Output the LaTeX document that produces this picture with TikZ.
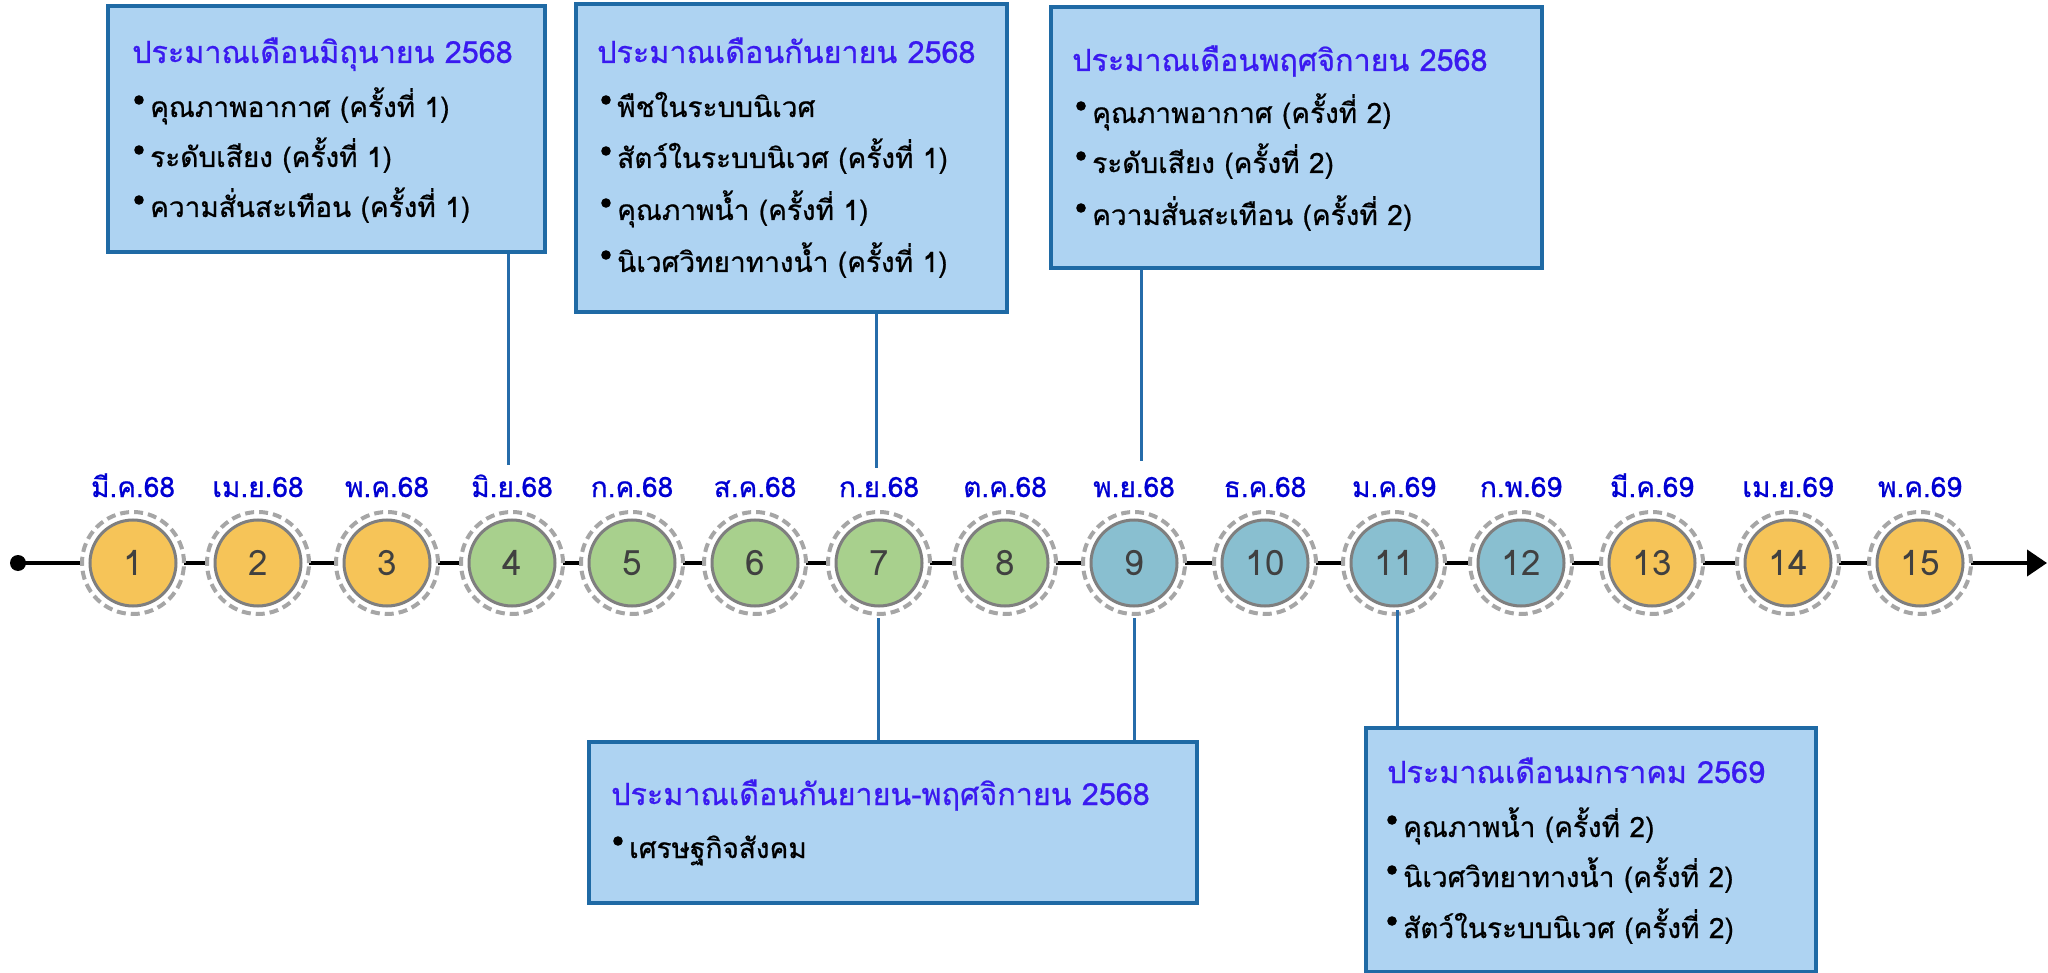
\documentclass[tikz,border=0pt]{standalone}
\usepackage{fontspec}
\usetikzlibrary{arrows.meta}
\setmainfont[Script=Thai]{Loma}
\newfontfamily\thk[Script=Thai,FakeBold=0.7]{Loma}
\definecolor{boxfill}{RGB}{174,211,242}
\definecolor{boxline}{RGB}{31,106,165}
\definecolor{conline}{RGB}{38,108,170}
\definecolor{lblblue}{RGB}{0,0,210}
\definecolor{ttlblue}{RGB}{58,26,240}
\definecolor{cyel}{RGB}{246,196,88}
\definecolor{cgrn}{RGB}{168,208,141}
\definecolor{cblu}{RGB}{137,191,208}
\definecolor{ringgray}{RGB}{166,166,166}
\definecolor{rimgray}{RGB}{127,127,127}
\definecolor{numgray}{RGB}{64,64,64}
\tikzset{
  infobox/.style={draw=boxline, line width=4pt, fill=boxfill, rectangle, inner sep=0pt},
  ttl/.style={anchor=base west, inner sep=0pt, text=ttlblue, font=\thk\fontsize{30.5}{32}\selectfont},
  row/.style={anchor=base west, inner sep=0pt, text=black, font=\thk\fontsize{28}{30}\selectfont},
  ring/.style={circle, draw=ringgray, line width=4pt, dash pattern=on 9pt off 5pt, fill=white, minimum size=102pt, inner sep=0pt},
  disc/.style={circle, draw=rimgray, line width=3pt, minimum size=86pt, inner sep=0pt, text=numgray, font=\fontsize{35}{37}\selectfont},
  mlabel/.style={anchor=base, inner sep=0pt, text=lblblue, font=\thk\fontsize{28}{30}\selectfont},
  conn/.style={draw=conline, line width=3pt},
}
\newcommand{\bulletat}[1]{\fill ([xshift=-11pt,yshift=17pt]#1.base west) circle (4.8pt);}
\begin{document}
\begin{tikzpicture}[x=1pt,y=-1pt]
\useasboundingbox (0,0) rectangle (2048,973);
% timeline
\coordinate (tstart) at (18,563);
\coordinate (tend) at (2047,563);
\draw[line width=4pt, -{Triangle[length=20pt,width=26pt]}] (tstart) -- (tend);
\fill (tstart) circle (8pt);
% circles
\foreach \i/\x/\c/\m in {1/133/cyel/มี.ค.68, 2/258/cyel/เม.ย.68, 3/387/cyel/พ.ค.68, 4/512/cgrn/มิ.ย.68, 5/632/cgrn/ก.ค.68, 6/755/cgrn/ส.ค.68, 7/879/cgrn/ก.ย.68, 8/1005/cgrn/ต.ค.68, 9/1134/cblu/พ.ย.68, 10/1265/cblu/ธ.ค.68, 11/1394/cblu/ม.ค.69, 12/1521/cblu/ก.พ.69, 13/1652/cyel/มี.ค.69, 14/1788/cyel/เม.ย.69, 15/1920/cyel/พ.ค.69}{
  \node[ring] (r\i) at (\x,563) {};
  \node[disc, fill=\c] (c\i) at (\x,563) {\i};
  \node[mlabel] (m\i) at (\x,497) {\m};
}
% boxes
\node[infobox, minimum width=437pt, minimum height=246pt] (b1) at (326.5,129) {};
\node[infobox, minimum width=431pt, minimum height=308pt] (b2) at (791.5,158) {};
\node[infobox, minimum width=491pt, minimum height=261pt] (b3) at (1296.5,137.5) {};
\node[infobox, minimum width=608pt, minimum height=161pt] (b4) at (893,822.5) {};
\node[infobox, minimum width=450pt, minimum height=244pt] (b5) at (1591,850) {};
% box 1
\node[ttl] (t1) at (132,63) {ประมาณเดือนมิถุนายน 2568};
\node[row] (t1a) at (150,117) {คุณภาพอากาศ (ครั้งที่ 1)};
\node[row] (t1b) at (150,167) {ระดับเสียง (ครั้งที่ 1)};
\node[row] (t1c) at (150,217) {ความสั่นสะเทือน (ครั้งที่ 1)};
\bulletat{t1a}\bulletat{t1b}\bulletat{t1c}
% box 2
\node[ttl] (t2) at (597,63) {ประมาณเดือนกันยายน 2568};
\node[row] (t2a) at (617,117) {พืชในระบบนิเวศ};
\node[row] (t2b) at (617,168) {สัตว์ในระบบนิเวศ (ครั้งที่ 1)};
\node[row] (t2c) at (617,220) {คุณภาพน้ำ (ครั้งที่ 1)};
\node[row] (t2d) at (617,272) {นิเวศวิทยาทางน้ำ (ครั้งที่ 1)};
\bulletat{t2a}\bulletat{t2b}\bulletat{t2c}\bulletat{t2d}
% box 3
\node[ttl] (t3) at (1072,71) {ประมาณเดือนพฤศจิกายน 2568};
\node[row] (t3a) at (1092,123) {คุณภาพอากาศ (ครั้งที่ 2)};
\node[row] (t3b) at (1092,173) {ระดับเสียง (ครั้งที่ 2)};
\node[row] (t3c) at (1092,225) {ความสั่นสะเทือน (ครั้งที่ 2)};
\bulletat{t3a}\bulletat{t3b}\bulletat{t3c}
% box 4
\node[ttl] (t4) at (611,805) {ประมาณเดือนกันยายน-พฤศจิกายน 2568};
\node[row] (t4a) at (629,858) {เศรษฐกิจสังคม};
\bulletat{t4a}
% box 5
\node[ttl] (t5) at (1387,783) {ประมาณเดือนมกราคม 2569};
\node[row] (t5a) at (1403,837) {คุณภาพน้ำ (ครั้งที่ 2)};
\node[row] (t5b) at (1403,887) {นิเวศวิทยาทางน้ำ (ครั้งที่ 2)};
\node[row] (t5c) at (1403,938) {สัตว์ในระบบนิเวศ (ครั้งที่ 2)};
\bulletat{t5a}\bulletat{t5b}\bulletat{t5c}
% connectors
\coordinate (k1) at (508,465);
\coordinate (k2) at (876,468);
\coordinate (k3) at (1141,461);
\coordinate (k4) at (878,618);
\coordinate (k5) at (1134,618);
\coordinate (k6) at (1397,610);
\draw[conn] (b1.south -| k1) -- (k1);
\draw[conn] (b2.south -| k2) -- (k2);
\draw[conn] (b3.south -| k3) -- (k3);
\draw[conn] (k4) -- (b4.north -| k4);
\draw[conn] (k5) -- (b4.north -| k5);
\draw[conn] (k6) -- (b5.north -| k6);
\end{tikzpicture}
\end{document}
